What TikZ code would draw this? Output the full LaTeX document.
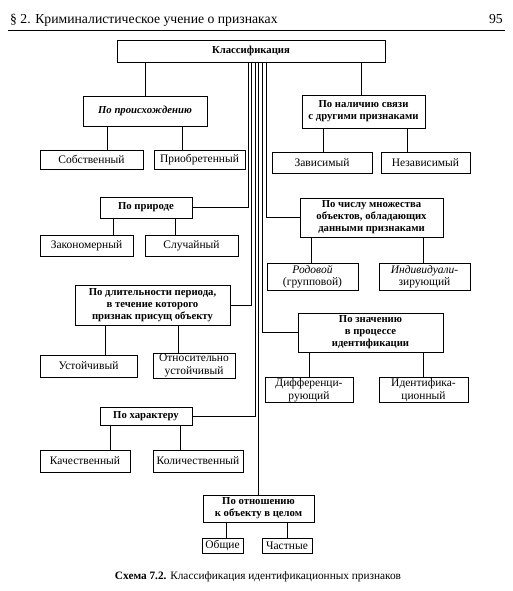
\documentclass[tikz,border=0pt]{standalone}
\usepackage{fontspec}
\setmainfont{Liberation Serif}
\begin{document}
\tikzset{
  box/.style={draw, line width=0.8pt, inner sep=1pt, align=center, font=\fontsize{10.7}{12}\selectfont\bfseries},
  leaf/.style={draw, line width=0.8pt, inner sep=1pt, align=center, font=\fontsize{11.5}{12.5}\selectfont},
  link/.style={line width=0.8pt},
  bund/.style={line width=0.6pt}
}
\begin{tikzpicture}[x=1pt,y=-1pt]
\useasboundingbox (0,0) rectangle (513,591);
% header
\node[anchor=base west, inner sep=0pt, font=\fontsize{13.7}{15}\selectfont] (head) at (10,24) {§ 2. Криминалистическое учение о признаках};
\node[anchor=base east, inner sep=0pt, font=\fontsize{13.7}{15}\selectfont] (page) at (503,24) {95};
\coordinate (rl) at (8,31);
\coordinate (rr) at (505,31);
\draw[line width=1pt] (rl) -- (rr);

% boxes
\node[box, minimum width=268pt, minimum height=22pt] (klass) at (251,51) {Классификация};

\node[box, minimum width=124pt, minimum height=30pt, font=\fontsize{10.7}{12}\selectfont\bfseries\itshape] (orig) at (145,111) {По происхождению};
\node[leaf, minimum width=103pt, minimum height=19pt] (sob) at (91.5,159.5) {Собственный};
\node[leaf, minimum width=91pt, minimum height=19pt] (prio) at (199.5,159.5) {Приобретенный};

\node[box, minimum width=123pt, minimum height=33pt] (svyaz) at (363.5,111.5) {По наличию связи\\с другими признаками};
\node[leaf, minimum width=100pt, minimum height=21pt] (zav) at (322,162.5) {Зависимый};
\node[leaf, minimum width=89pt, minimum height=21pt] (nezav) at (425.5,162.5) {Независимый};

\node[box, minimum width=92pt, minimum height=21pt] (nature) at (146,207.5) {По природе};
\node[leaf, minimum width=93pt, minimum height=21pt] (zak) at (86.5,245.5) {Закономерный};
\node[leaf, minimum width=93pt, minimum height=21pt] (sluch) at (191.5,245.5) {Случайный};

\node[box, minimum width=143pt, minimum height=39pt] (num) at (371.5,217.5) {По числу множества\\объектов, обладающих\\данными признаками};
\node[leaf, minimum width=91pt, minimum height=27pt] (rod) at (312.5,276.5) {\textit{Родовой}\\(групповой)};
\node[leaf, minimum width=91pt, minimum height=27pt] (ind) at (424.5,276.5) {\textit{Индивидуали-}\\зирующий};

\node[box, minimum width=155pt, minimum height=40pt] (dur) at (152.5,305) {По длительности периода,\\в течение которого\\признак присущ объекту};
\node[leaf, minimum width=97pt, minimum height=22pt] (ust) at (88.5,366) {Устойчивый};
\node[leaf, minimum width=82pt, minimum height=25pt] (otn) at (194,365.5) {Относительно\\устойчивый};

\node[box, minimum width=145pt, minimum height=39pt] (sig) at (370.5,332.5) {По значению\\в процессе\\идентификации};
\node[leaf, minimum width=88pt, minimum height=24pt] (diff) at (309,390) {Дифференци-\\рующий};
\node[leaf, minimum width=89pt, minimum height=24pt] (ident) at (423.5,390) {Идентифика-\\ционный};

\node[box, minimum width=92pt, minimum height=18pt] (char) at (146,416) {По характеру};
\node[leaf, minimum width=90pt, minimum height=22pt] (kach) at (85,461) {Качественный};
\node[leaf, minimum width=90pt, minimum height=22pt] (kol) at (198,461) {Количественный};

\node[box, minimum width=111pt, minimum height=27pt] (rel) at (258.5,508.5) {По отношению\\к объекту в целом};
\node[leaf, minimum width=41pt, minimum height=15pt] (obsh) at (222.5,545.5) {Общие};
\node[leaf, minimum width=50pt, minimum height=15pt] (chast) at (287,545.5) {Частные};

% caption
\node[inner sep=0pt, font=\fontsize{11.3}{13}\selectfont] (cap) at (258,577) {\textbf{Схема 7.2.} Классификация идентификационных признаков};

% connector x positions
\coordinate (x1) at (361,0);
\coordinate (c1) at (107,0);
\coordinate (c2) at (182,0);
\coordinate (c3) at (323,0);
\coordinate (c4) at (407,0);
\coordinate (c5) at (113,0);
\coordinate (c6) at (175,0);
\coordinate (c7) at (311,0);
\coordinate (c8) at (423,0);
\coordinate (c9) at (105,0);
\coordinate (c10) at (178,0);
\coordinate (c11) at (309,0);
\coordinate (c12) at (423,0);
\coordinate (c13) at (110,0);
\coordinate (c14) at (180,0);
\coordinate (c15) at (226,0);
\coordinate (c16) at (287,0);
% bundle
\coordinate (b1) at (248,0);
\coordinate (b2) at (251.5,0);
\coordinate (b3) at (255,0);
\coordinate (b5) at (262,0);
\coordinate (b6) at (266,0);

\draw[link] (klass.south -| orig.north) -- (orig.north);
\draw[link] (klass.south -| x1) -- (svyaz.north -| x1);

\draw[link] (orig.south -| c1) -- (sob.north -| c1);
\draw[link] (orig.south -| c2) -- (prio.north -| c2);
\draw[link] (svyaz.south -| c3) -- (zav.north -| c3);
\draw[link] (svyaz.south -| c4) -- (nezav.north -| c4);
\draw[link] (nature.south -| c5) -- (zak.north -| c5);
\draw[link] (nature.south -| c6) -- (sluch.north -| c6);
\draw[link] (num.south -| c7) -- (rod.north -| c7);
\draw[link] (num.south -| c8) -- (ind.north -| c8);
\draw[link] (dur.south -| c9) -- (ust.north -| c9);
\draw[link] (dur.south -| c10) -- (otn.north -| c10);
\draw[link] (sig.south -| c11) -- (diff.north -| c11);
\draw[link] (sig.south -| c12) -- (ident.north -| c12);
\draw[link] (char.south -| c13) -- (kach.north -| c13);
\draw[link] (char.south -| c14) -- (kol.north -| c14);
\draw[link] (rel.south -| c15) -- (obsh.north -| c15);
\draw[link] (rel.south -| c16) -- (chast.north -| c16);

\draw[bund] (klass.south -| b1) |- (nature.east);
\draw[bund] (klass.south -| b2) |- (dur.east);
\draw[bund] (klass.south -| b3) |- (char.east);
\draw[bund] (klass.south -| rel.north) -- (rel.north);
\draw[bund] (klass.south -| b5) |- (sig.west);
\draw[bund] (klass.south -| b6) |- (num.west);
\end{tikzpicture}
\end{document}
